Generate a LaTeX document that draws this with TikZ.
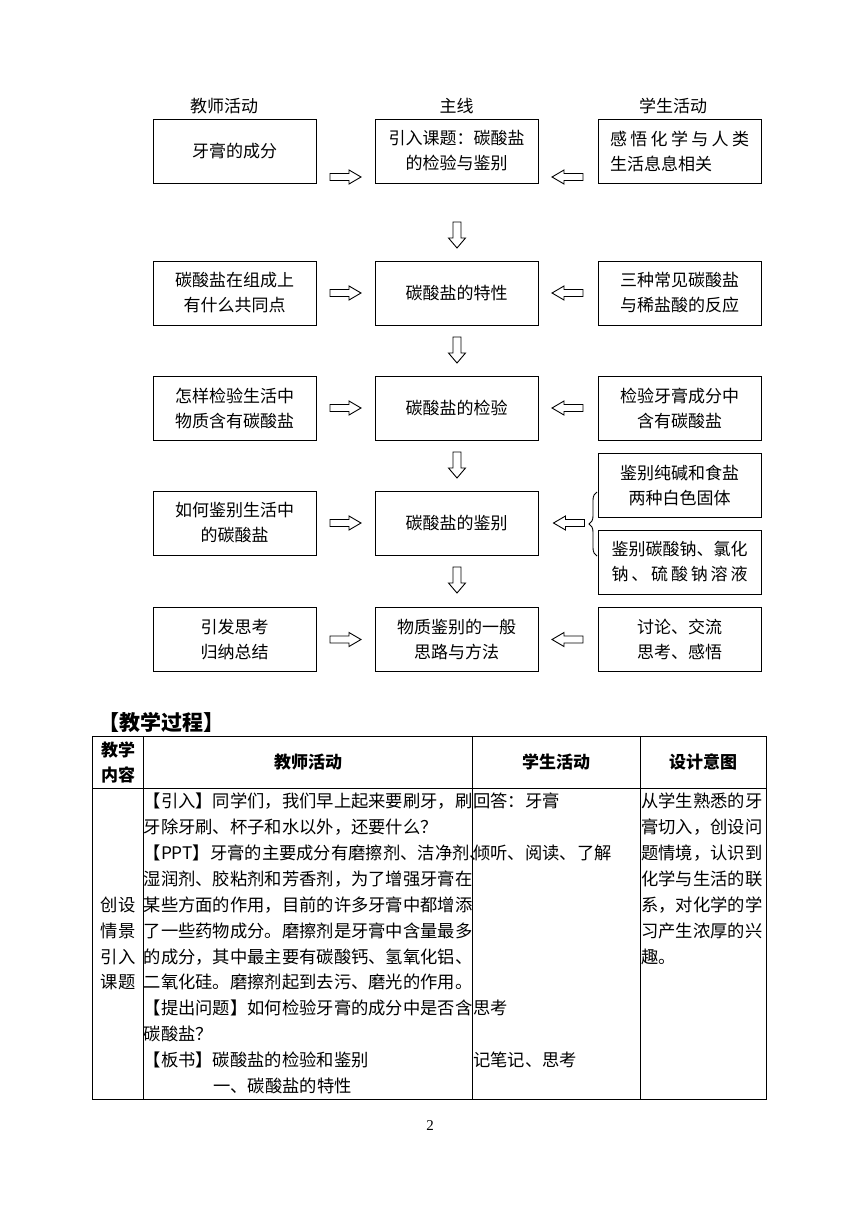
\documentclass[tikz,border=0pt]{standalone}
\usepackage{fontspec}
\setmainfont{Liberation Serif}
\newfontfamily\cjk{Noto Sans CJK SC}
\usetikzlibrary{decorations.pathreplacing,calc}

\tikzset{
  box/.style={draw, line width=1pt, minimum width=163pt, minimum height=64pt, inner sep=0pt,
    align=center, font=\cjk\fontsize{17}{25}\selectfont},
  hdr/.style={font=\cjk\fontsize{17}{20}\selectfont},
  blk/.style={draw, line width=0.9pt, fill=white},
  harr/.pic={\path[blk] (-15.5,-3.5) -- (3.5,-3.5) -- (3.5,-7) -- (15.5,0) -- (3.5,7) -- (3.5,3.5) -- (-15.5,3.5) -- cycle;},
  varr/.pic={\path[blk] (-13,-4) -- (3,-4) -- (3,-8.5) -- (13,0) -- (3,8.5) -- (3,4) -- (-13,4) -- cycle;},
  tbl/.style={line width=0.9pt},
  thead/.style={font=\cjk\bfseries\fontsize{17}{25}\selectfont, align=center, inner sep=0pt},
  body/.style={font=\cjk\fontsize{17.3}{20}\selectfont, inner sep=0pt, anchor=base west},
  bodyc/.style={font=\cjk\fontsize{17.3}{20}\selectfont, inner sep=0pt, anchor=base},
}

\begin{document}
\begin{tikzpicture}[x=1pt, y=-1pt]
\fill[white] (0,0) rectangle (860,1215);
\path[use as bounding box] (0,0) rectangle (860,1215);

% column headings
\node[hdr] (h1) at (224,106) {教师活动};
\node[hdr] (h2) at (456.5,106) {主线};
\node[hdr] (h3) at (673,106) {学生活动};

% row 1
\node[box] (l1) at (234.5,151) {牙膏的成分};
\node[box] (m1) at (456.5,151) {引入课题：碳酸盐\\的检验与鉴别};
\node[box, align=left] (r1) at (679.5,151) {\makebox[139pt][s]{感\hfill 悟\hfill 化\hfill 学\hfill 与\hfill 人\hfill 类}\\生活息息相关};
% row 2
\node[box] (l2) at (234.5,293) {碳酸盐在组成上\\有什么共同点};
\node[box] (m2) at (456.5,293) {碳酸盐的特性};
\node[box] (r2) at (679.5,293) {三种常见碳酸盐\\与稀盐酸的反应};
% row 3
\node[box] (l3) at (234.5,408) {怎样检验生活中\\物质含有碳酸盐};
\node[box] (m3) at (456.5,408) {碳酸盐的检验};
\node[box] (r3) at (679.5,408) {检验牙膏成分中\\含有碳酸盐};
% row 4
\node[box] (l4) at (234.5,523) {如何鉴别生活中\\的碳酸盐};
\node[box] (m4) at (456.5,523) {碳酸盐的鉴别};
\node[box] (r4a) at (679.5,485) {鉴别纯碱和食盐\\两种白色固体};
\node[box, align=left] (r4b) at (679.5,562) {鉴别碳酸钠、氯化\\\makebox[136pt][s]{钠\hfill 、\hfill 硫\hfill 酸\hfill 钠\hfill 溶\hfill 液}};
% row 5
\node[box] (l5) at (234.5,639.5) {引发思考\\归纳总结};
\node[box] (m5) at (456.5,639.5) {物质鉴别的一般\\思路与方法};
\node[box] (r5) at (679.5,639.5) {讨论、交流\\思考、感悟};

% horizontal block arrows
\pic at (345.5,177) {harr};
\pic[rotate=180] at (567.5,177) {harr};
\foreach \yy in {293,408,639.5} {
  \pic at (345.5,\yy) {harr};
  \pic[rotate=180] at (567.5,\yy) {harr};
}
\pic at (345.5,523) {harr};
\pic[rotate=180] at (569,523) {harr};
% vertical block arrows
\foreach \yy in {235,350,465,580} {
  \pic[rotate=-90] at (457,\yy) {varr};
}
% brace
\draw[line width=0.9pt, decorate, decoration={brace, amplitude=8pt}] (597,556) -- (597,492);

% table title
\node[font=\cjk\bfseries\fontsize{21}{24}\selectfont, anchor=west, inner sep=0pt] (title) at (98,722) {【教学过程】};

% table grid
\draw[tbl] (92.5,736) rectangle (766,1099);
\draw[tbl] (92.5,788) -- (766,788);
\draw[tbl] (143.5,736) -- (143.5,1099);
\draw[tbl] (472.5,736) -- (472.5,1099);
\draw[tbl] (640,736) -- (640,1099);

% header
\node[thead] (t1) at (118,762) {教学\\内容};
\node[thead] (t2) at (308,762) {教师活动};
\node[thead] (t3) at (556,762) {学生活动};
\node[thead] (t4) at (703,762) {设计意图};

% column 2
\foreach \t [count=\i from 0] in {【引入】同学们，我们早上起来要刷牙，刷,
  牙除牙刷、杯子和水以外，还要什么？,
  【PPT】牙膏的主要成分有磨擦剂、洁净剂、,
  湿润剂、胶粘剂和芳香剂，为了增强牙膏在,
  某些方面的作用，目前的许多牙膏中都增添,
  了一些药物成分。磨擦剂是牙膏中含量最多,
  的成分，其中最主要有碳酸钙、氢氧化铝、,
  二氧化硅。磨擦剂起到去污、磨光的作用。,
  【提出问题】如何检验牙膏的成分中是否含,
  碳酸盐？,
  【板书】碳酸盐的检验和鉴别}
  \node[body] (b\i) at (143.5,807.6+25.9*\i) {\t};
\node[body] (b11) at (213,807.6+25.9*11) {一、碳酸盐的特性};

% column 1
\node[bodyc] (a1) at (118,807.6+25.9*4) {创设};
\node[bodyc] (a2) at (118,807.6+25.9*5) {情景};
\node[bodyc] (a3) at (118,807.6+25.9*6) {引入};
\node[bodyc] (a4) at (118,807.6+25.9*7) {课题};

% column 3
\node[body] (s1) at (473,807.6) {回答：牙膏};
\node[body] (s2) at (473,807.6+25.9*2) {倾听、阅读、了解};
\node[body] (s3) at (473,807.6+25.9*8) {思考};
\node[body] (s4) at (473,807.6+25.9*10) {记笔记、思考};

% column 4
\foreach \t [count=\i from 0] in {从学生熟悉的牙, 膏切入，创设问, 题情境，认识到,
  化学与生活的联, 系，对化学的学, 习产生浓厚的兴, 趣。}
  \node[body] (d\i) at (641,807.6+25.9*\i) {\t};

% page number
\node[font=\fontsize{15}{18}\selectfont, inner sep=0pt] (pg) at (430,1126) {2};
\end{tikzpicture}
\end{document}
